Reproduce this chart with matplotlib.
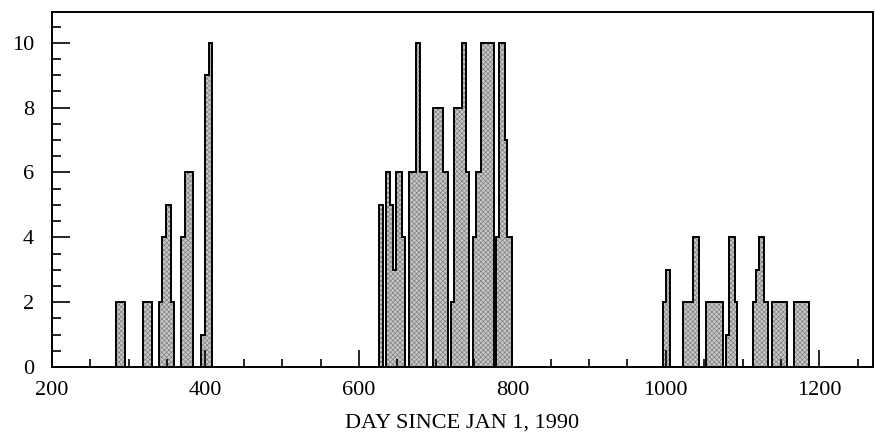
import numpy as np
import matplotlib
matplotlib.use("Agg")
import matplotlib.pyplot as plt
from matplotlib.ticker import MultipleLocator

plt.rcParams['font.family'] = ['Liberation Serif', 'DejaVu Serif']
plt.rcParams['hatch.linewidth'] = 0.5

# bin edges (day) and counts for each contiguous run of bins
bin_edges = [
    [283, 295],
    [319, 331],
    [339, 344, 349, 355, 359],
    [368, 373, 384],
    [394, 400, 404, 408],
    [626, 632],
    [635, 641, 645, 649, 656, 660],
    [665, 674, 680, 689],
    [696, 709, 716],
    [720, 724, 734, 740, 744],
    [749, 752, 759, 776],
    [779, 783, 790, 793, 800],
    [996, 1000, 1006],
    [1023, 1036, 1043],
    [1052, 1074],
    [1078, 1082, 1090, 1093],
    [1113, 1118, 1122, 1128, 1133],
    [1139, 1158],
    [1167, 1187],
]
bin_counts = [
    [2],
    [2],
    [2, 4, 5, 2],
    [4, 6],
    [1, 9, 10],
    [5],
    [6, 5, 3, 6, 4],
    [6, 10, 6],
    [8, 6],
    [2, 8, 10, 6],
    [4, 6, 10],
    [4, 10, 7, 4],
    [2, 3],
    [2, 4],
    [2],
    [1, 4, 2],
    [2, 3, 4, 2],
    [2],
    [2],
]

fig = plt.figure(figsize=(8.75, 4.36), dpi=100)
ax = fig.add_axes([0.0594, 0.1583, 0.9383, 0.8142])

for edges, counts in zip(bin_edges, bin_counts):
    # stippled fill (hatch takes the edge colour), then a solid outline on top
    ax.stairs(counts, edges, baseline=0, fill=True,
              facecolor='#c8c8c8', edgecolor='#808080', linewidth=0,
              hatch='xxxxxxx')
    ax.stairs(counts, edges, baseline=0, fill=True,
              facecolor='none', edgecolor='black', linewidth=1.4)

ax.set_xlim(200, 1270)
ax.set_ylim(0, 10.95)
ax.xaxis.set_major_locator(MultipleLocator(200))
ax.xaxis.set_minor_locator(MultipleLocator(50))
ax.yaxis.set_major_locator(MultipleLocator(2))
ax.yaxis.set_minor_locator(MultipleLocator(0.5))

ax.tick_params(which='both', direction='in', top=False, right=False,
               width=1.2, labelsize=16)
ax.tick_params(axis='y', which='major', length=13, pad=13)
ax.tick_params(axis='y', which='minor', length=6.5)
ax.tick_params(axis='x', which='major', length=12.5, pad=10)
ax.tick_params(axis='x', which='minor', length=5.5)

for s in ax.spines.values():
    s.set_linewidth(1.4)

ax.set_xlabel('DAY SINCE JAN 1, 1990', fontsize=16, labelpad=10)

fig.savefig('out.png', dpi=100)
